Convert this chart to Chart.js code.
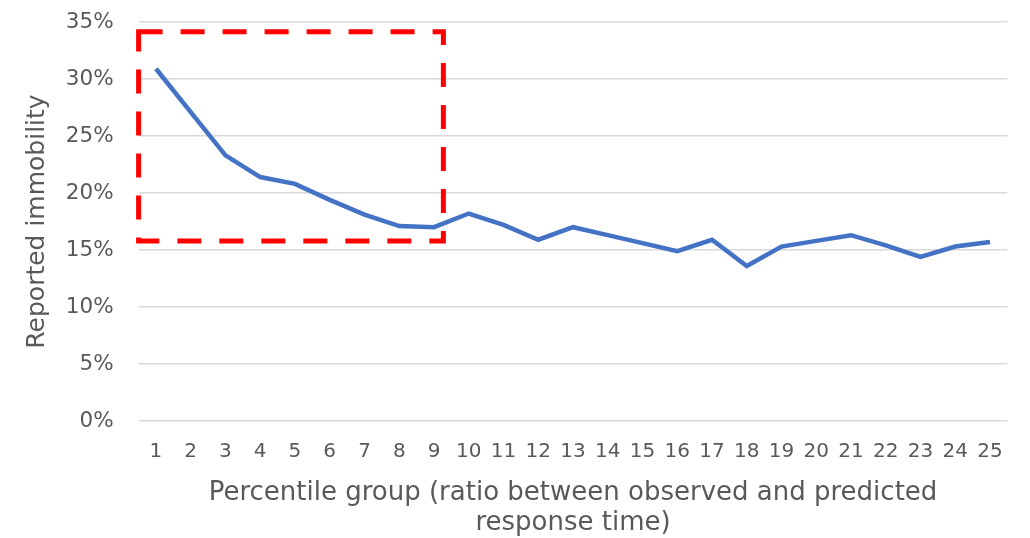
<!DOCTYPE html>
<html>
<head>
<meta charset="utf-8">
<script src="https://cdn.jsdelivr.net/npm/chart.js@4"></script>
<style>
  body { margin: 0; background: #fff; }
  #wrap { width: 1030px; height: 538px; position: relative; }
</style>
</head>
<body>
<div id="wrap"><canvas id="myChart"></canvas></div>
<script>
// Chart data
const groups = ['1','2','3','4','5','6','7','8','9','10','11','12','13','14','15','16','17','18','19','20','21','22','23','24','25'];
const immobility = [30.9, 27.1, 23.3, 21.4, 20.8, 19.4, 18.1, 17.1, 17.0, 18.2, 17.2, 15.9, 17.0, 16.3, 15.6, 14.9, 15.9, 13.6, 15.3, 15.8, 16.3, 15.4, 14.4, 15.3, 15.7];
const yTicks = [0, 5, 10, 15, 20, 25, 30, 35];

// Highlight box, in axis units: category index from/to, percent from/to
const boxX = [-0.5, 8.27];
const boxY = [15.8, 34.15];

const textColor = '#595959';
const fontName = "Verdana, 'DejaVu Sans', sans-serif";

// Dashed red rectangle drawn on top of the line
const boxPlugin = {
    id: 'boxPlugin',
    afterDatasetsDraw(chart) {
        const ctx = chart.ctx;
        const x = chart.scales.x, y = chart.scales.y;
        const x1 = x.getPixelForValue(boxX[0]);
        const x2 = x.getPixelForValue(boxX[1]);
        const y1 = y.getPixelForValue(boxY[1]);
        const y2 = y.getPixelForValue(boxY[0]);
        ctx.save();
        ctx.strokeStyle = '#ff0000';
        ctx.lineWidth = 5;
        ctx.setLineDash([24, 18]);
        ctx.strokeRect(x1, y1, x2 - x1, y2 - y1);
        ctx.restore();
    }
};

let chart;
drawChart();

function drawChart() {
    const ctx = document.getElementById('myChart').getContext('2d');

    chart = new Chart(ctx, {
        type: 'line',
        data: {
            labels: groups,
            datasets: [{
                data: immobility,
                borderColor: '#4472c4',
                borderWidth: 4.5,
                pointRadius: 0,
                tension: 0,
                fill: false
            }]
        },
        options: {
            responsive: true,
            maintainAspectRatio: false,
            animation: false,
            layout: { padding: { top: 22, right: 22.6, bottom: 0, left: 0 } },
            plugins: {
                legend: { display: false },
                tooltip: { enabled: false }
            },
            scales: {
                x: {
                    offset: true,
                    grid: { display: false, drawTicks: false },
                    border: { display: false },
                    ticks: {
                        color: textColor,
                        font: { family: fontName, size: 20 },
                        padding: 19,
                        maxRotation: 0,
                        autoSkip: false
                    },
                    title: {
                        display: true,
                        text: ['Percentile group (ratio between observed and predicted', 'response time)'],
                        color: textColor,
                        font: { family: fontName, size: 26, lineHeight: 30 / 26 },
                        padding: { top: 0, bottom: 0 }
                    },
                    afterFit(scale) { scale.height = 117; }
                },
                y: {
                    min: 0,
                    max: 35,
                    afterBuildTicks(scale) {
                        scale.ticks = yTicks.map(v => ({ value: v }));
                    },
                    grid: { color: '#d9d9d9', lineWidth: 1.5, drawTicks: false },
                    border: { display: false },
                    ticks: {
                        color: textColor,
                        font: { family: fontName, size: 21.5 },
                        padding: 25,
                        callback: v => v + '%'
                    },
                    title: {
                        display: true,
                        text: 'Reported immobility',
                        color: textColor,
                        font: { family: fontName, size: 25 },
                        padding: { top: 22, bottom: 0 }
                    },
                    afterFit(scale) {
                        scale.width = 138.6;
                        scale.paddingTop = 0; // let layout padding set the top edge
                    }
                }
            }
        },
        plugins: [boxPlugin]
    });
}
</script>
</body>
</html>
